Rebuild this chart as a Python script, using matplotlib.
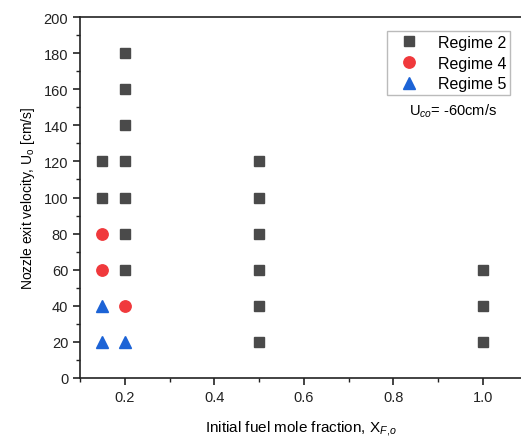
import matplotlib
matplotlib.use("Agg")
import matplotlib.pyplot as plt
from matplotlib.ticker import MultipleLocator

plt.rcParams['font.family'] = ['Liberation Sans', 'DejaVu Sans']
plt.rcParams['mathtext.fontset'] = 'custom'
plt.rcParams['mathtext.rm'] = 'Liberation Sans'
plt.rcParams['mathtext.it'] = 'Liberation Sans:italic'
plt.rcParams['mathtext.bf'] = 'Liberation Sans:bold'

# Data
regime2_x = [0.15, 0.15, 0.2, 0.2, 0.2, 0.2, 0.2, 0.2, 0.2, 0.5, 0.5, 0.5, 0.5, 0.5, 0.5, 1.0, 1.0, 1.0]
regime2_y = [100, 120, 60, 80, 100, 120, 140, 160, 180, 20, 40, 60, 80, 100, 120, 20, 40, 60]
regime4_x = [0.15, 0.15, 0.2]
regime4_y = [60, 80, 40]
regime5_x = [0.15, 0.15, 0.2]
regime5_y = [20, 40, 20]
labels = ['Regime 2', 'Regime 4', 'Regime 5']

fig = plt.figure(figsize=(5.21, 4.39), dpi=100)
ax = fig.add_axes([80/521, 1-379/439, 1-80/521, (379-18)/439])

ax.plot(regime2_x, regime2_y, 's', color='#4a4a4a', markersize=7.5, label=labels[0], linestyle='none')
ax.plot(regime4_x, regime4_y, 'o', color='#f0393c', markersize=8.2, label=labels[1], linestyle='none')
ax.plot(regime5_x, regime5_y, '^', color='#1c63d6', markersize=9, label=labels[2], linestyle='none')

ax.set_xlim(0.1, 1.085)
ax.set_ylim(0, 200)
ax.xaxis.set_major_locator(MultipleLocator(0.2))
ax.xaxis.set_minor_locator(MultipleLocator(0.1))
ax.yaxis.set_major_locator(MultipleLocator(20))
ax.yaxis.set_minor_locator(MultipleLocator(10))
ax.set_xticks([0.2, 0.4, 0.6, 0.8, 1.0])
ax.set_xticklabels(['0.2', '0.4', '0.6', '0.8', '1.0'])
ax.tick_params(which='major', direction='out', length=5, width=1.2, labelsize=10.5, colors='#222222')
ax.tick_params(which='minor', direction='out', length=3, width=1.0, colors='#222222')
for s in ['left', 'bottom', 'top']:
    ax.spines[s].set_linewidth(1.2)
    ax.spines[s].set_color('#222222')
ax.spines['right'].set_visible(False)

ax.set_xlabel('Initial fuel mole fraction, X$_{\\it{F{,}o}}$', fontsize=11, labelpad=10)
ax.set_ylabel('Nozzle exit velocity, U$_\\mathrm{o}$ [cm/s]', fontsize=10, labelpad=5)

leg = ax.legend(loc='upper right', bbox_to_anchor=((510-80)/441, (379-32)/361), borderaxespad=0,
                fontsize=11.5, frameon=True,
                fancybox=False, edgecolor='#aaaaaa', handletextpad=0.7, borderpad=0.25,
                labelspacing=0.35, handlelength=2.2)
leg.get_frame().set_linewidth(1.0)

ax.text(453, 439-111, 'U$_{\\it{co}}$= -60cm/s', transform=None, ha='center', va='center', fontsize=10.5)

fig.savefig('out.png', dpi=100)
